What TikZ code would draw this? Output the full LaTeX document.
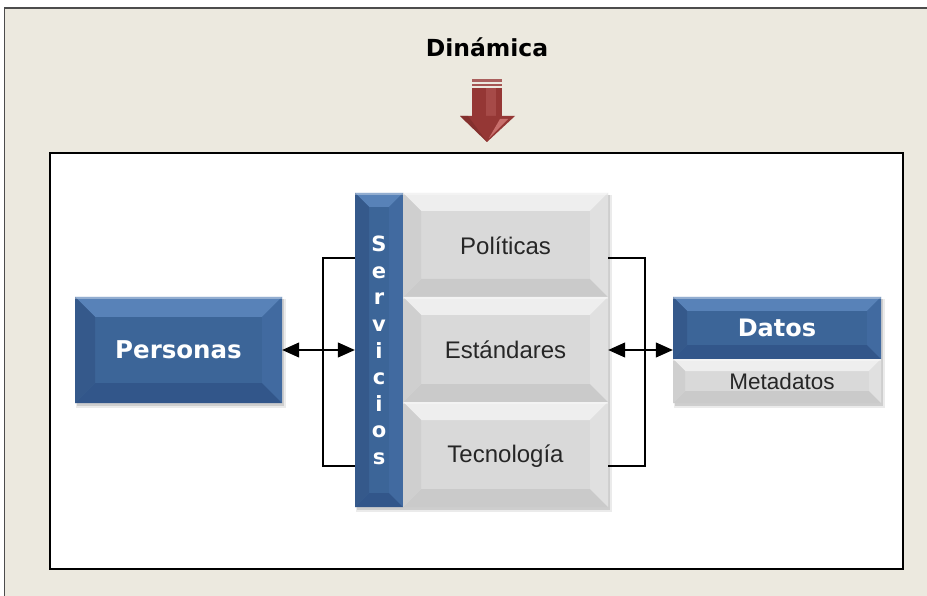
\documentclass[tikz,border=0pt]{standalone}
\usepackage{fontspec}
\setmainfont{Liberation Sans}
\newfontfamily\dv{DejaVu Sans}
\usetikzlibrary{calc,arrows.meta}
\definecolor{bg}{HTML}{ECE9DF}
\definecolor{bBase}{HTML}{3C6598}
\definecolor{bTop}{HTML}{5882B8}
\definecolor{bLeft}{HTML}{35598B}
\definecolor{bRight}{HTML}{416AA0}
\definecolor{bBot}{HTML}{32568A}
\definecolor{gBase}{HTML}{D9D9D9}
\definecolor{gTop}{HTML}{EEEEEE}
\definecolor{gLeft}{HTML}{CFCFCF}
\definecolor{gRight}{HTML}{E0E0E0}
\definecolor{gBot}{HTML}{CACACA}
\definecolor{rBase}{HTML}{953735}
\definecolor{rLight}{HTML}{C86F6C}
\definecolor{rDark}{HTML}{7A2C2A}
\definecolor{txt}{HTML}{262626}
% bevelled rectangle: x1 y1 x2 y2 bevel colourprefix
\newcommand\bev[6]{%
  \fill[#6Base] (#1,#2) rectangle (#3,#4);
  \fill[#6Top] (#1,#2) -- (#3,#2) -- (#3-#5,#2+#5) -- (#1+#5,#2+#5) -- cycle;
  \fill[#6Bot] (#1,#4) -- (#3,#4) -- (#3-#5,#4-#5) -- (#1+#5,#4-#5) -- cycle;
  \fill[#6Left] (#1,#2) -- (#1+#5,#2+#5) -- (#1+#5,#4-#5) -- (#1,#4) -- cycle;
  \fill[#6Right] (#3,#2) -- (#3-#5,#2+#5) -- (#3-#5,#4-#5) -- (#3,#4) -- cycle;
  \fill[white,opacity=.35] (#1,#2) rectangle (#3,#2+2);
}
\newcommand\shad[4]{%
  \fill[black,opacity=.08] (#1+1,#2+2) rectangle (#3+4,#4+5);
  \fill[black,opacity=.12] (#1+2,#2+2) rectangle (#3+2,#4+3);
}
\tikzset{
  boldlbl/.style={text=white,font=\dv\bfseries\fontsize{24}{28}\selectfont},
  grylbl/.style={text=txt,font=\fontsize{24}{28}\selectfont},
  letter/.style={text=white,font=\dv\bfseries\fontsize{21}{24}\selectfont,inner sep=0pt},
  link/.style={line width=1.1pt,{Triangle[length=17pt,width=15pt]}-{Triangle[length=17pt,width=15pt]}},
  brk/.style={line width=2.4pt}
}
\begin{document}
\begin{tikzpicture}[x=1pt,y=-1pt]
\useasboundingbox (0,0) rectangle (927,596);
\fill[white] (0,0) rectangle (927,596);
\fill[bg] (4.5,8) rectangle (927,596);
\draw[gray!60!black,line width=1.2pt] (4.5,596) -- (4.5,8) -- (927,8);

% title and arrow
\node[font=\dv\bfseries\fontsize{23.5}{28}\selectfont] (title) at (487,47) {Dinámica};
\fill[rBase!80!white] (472,79) rectangle (502,82);
\fill[rBase!85!white] (472,84) rectangle (502,86.5);
\fill[rBase] (472,88) rectangle (502,117);
\fill[rLight,opacity=.35] (486,88) rectangle (496,117);
\fill[rBase] (460,116) -- (515,116) -- (487,142) -- cycle;
\fill[rDark,opacity=.6] (460,116) -- (468,116) -- (487,142) -- cycle;
\fill[rLight] (489,138) -- (508,119) -- (500,119) -- cycle;

% inner frame
\draw[line width=2.5pt,fill=white] (50,153) rectangle (903,569);

% shadows
\shad{75}{297}{282}{403}
\shad{355}{193}{608}{507}
\shad{673}{297}{881}{403}

% Personas
\bev{75}{297}{282}{403}{20}{b}
\node[boldlbl,font=\dv\bfseries\fontsize{24.5}{28}\selectfont,minimum width=207pt,minimum height=106pt] (pers) at (178.5,350) {Personas};

% Servicios bar
\bev{355}{193}{403}{507}{14}{b}
\node[minimum width=48pt,minimum height=314pt,inner sep=0pt] (serv) at (379,350) {};
\foreach \ch [count=\i] in {S,e,r,v,i,c,i,o,s}
  \node[letter,anchor=base] (sv\i) at (379,{252+26.5*(\i-1)}) {\ch};

% grey rows
\bev{403}{193}{608}{297}{18}{g}
\bev{403}{297}{608}{402}{18}{g}
\bev{403}{402}{608}{507}{18}{g}
\node[grylbl,minimum width=205pt,minimum height=104pt] (pol) at (505.5,246) {Políticas};
\node[grylbl,minimum width=205pt,minimum height=105pt] (est) at (505.5,350) {Estándares};
\node[grylbl,minimum width=205pt,minimum height=105pt] (tec) at (505.5,456) {Tecnología};

% Datos
\bev{673}{297}{881}{359}{14}{b}
\bev{673}{359}{881}{403}{12}{g}
\node[boldlbl,minimum width=208pt,minimum height=62pt] (datos) at (777,328) {Datos};
\node[grylbl,font=\fontsize{22.5}{26}\selectfont,minimum width=208pt,minimum height=44pt] (meta) at (782,381) {Metadatos};

% brackets
\coordinate (lb1) at (323,258);
\coordinate (lb2) at (323,466);
\coordinate (rb1) at (645,258);
\coordinate (rb2) at (645,466);
\draw[brk] (lb1 -| serv.west) -- (lb1) -- (lb2) -- (lb2 -| serv.west);
\draw[brk] (rb1 -| pol.east) -- (rb1) -- (rb2) -- (rb2 -| tec.east);

% connectors
\draw[link] (pers.east) -- (pers.east -| serv.west);
\draw[link] (est.east |- pers.east) -- (pers.east -| datos.west);
\end{tikzpicture}
\end{document}
